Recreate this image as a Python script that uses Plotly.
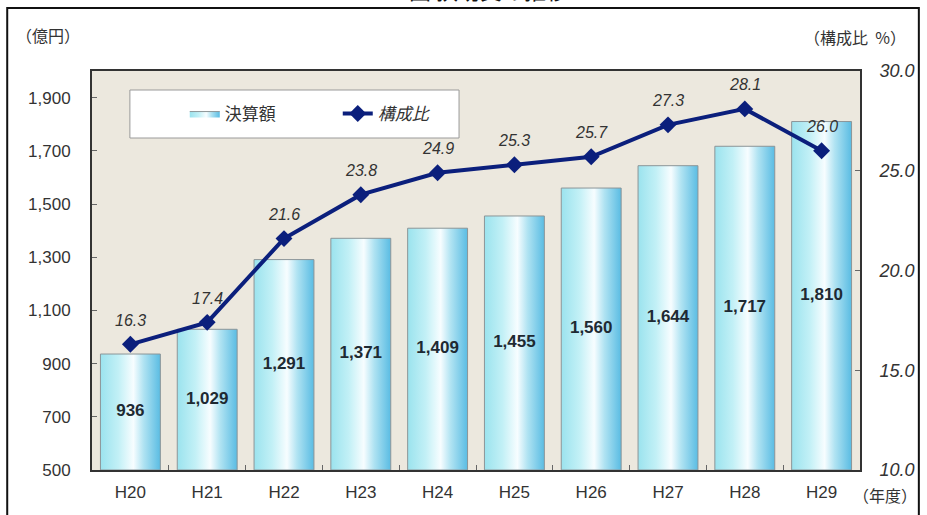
import plotly.graph_objects as go

years = ["H20", "H21", "H22", "H23", "H24", "H25", "H26", "H27", "H28", "H29"]
amounts = [936, 1029, 1291, 1371, 1409, 1455, 1560, 1644, 1717, 1810]
ratios = [16.3, 17.4, 21.6, 23.8, 24.9, 25.3, 25.7, 27.3, 28.1, 26.0]
left_ticks = [500, 700, 900, 1100, 1300, 1500, 1700, 1900]
right_ticks = [10, 15, 20, 25, 30]

Y_MIN, Y_MAX = 500, 2000
BAR_W = 0.78
JP = "Noto Sans CJK JP"
LAT = "Liberation Sans, Arial, sans-serif"

grad = [[0.0, "#9be3ee"], [0.3, "#c2f0f6"], [0.55, "#f7fdff"], [0.72, "#b0e3f2"], [1.0, "#5abce3"]]

fig = go.Figure()
for i, (yr, v) in enumerate(zip(years, amounts)):
    x0, x1 = i - BAR_W / 2, i + BAR_W / 2
    fig.add_trace(go.Scatter(
        x=[x0, x0, x1, x1, x0], y=[Y_MIN, v, v, Y_MIN, Y_MIN],
        mode="lines", fill="toself",
        line=dict(color="#8c9598", width=1),
        fillgradient=dict(type="horizontal", colorscale=grad),
        name="決算額", legendgroup="bar", showlegend=(i == 0),
        hoverinfo="skip",
    ))

# bar value labels
fig.add_trace(go.Scatter(
    x=list(range(len(years))), y=[(Y_MIN + v) / 2 for v in amounts],
    mode="text", text=[f"{v:,}" for v in amounts],
    textfont=dict(family=LAT, size=17, color="#1e2a33", weight="bold"),
    showlegend=False, hoverinfo="skip",
))

fig.add_trace(go.Scatter(
    x=list(range(len(years))), y=ratios, yaxis="y2",
    mode="lines+markers", name="<i>構成比</i>",
    line=dict(color="#0b1f7c", width=4),
    marker=dict(symbol="diamond", size=13, color="#0b1f7c"),
))

for i, r in enumerate(ratios):
    fig.add_annotation(x=i, y=r, yref="y2", text=f"<i>{r:.1f}</i>",
                       showarrow=False, yshift=24,
                       font=dict(family=LAT, size=16, color="#333333"))

axis_font = dict(family=LAT, size=17, color="#333333")
fig.update_layout(
    width=927, height=515,
    margin=dict(l=92, r=65, t=71, b=45),
    paper_bgcolor="white", plot_bgcolor="#ece8de",
    xaxis=dict(range=[-0.5, len(years) - 0.5], tickmode="array",
               tickvals=list(range(len(years))), ticktext=years,
               ticks="", showgrid=False, zeroline=False,
               showline=True, linecolor="#333333", linewidth=2, mirror=True,
               tickfont=axis_font, ticklabelstandoff=6,
               minor=dict(tickvals=[i + 0.5 for i in range(len(years) - 1)],
                          ticks="inside", ticklen=5, tickcolor="#666666", showgrid=False)),
    yaxis=dict(range=[Y_MIN, Y_MAX], tickvals=left_ticks,
               ticktext=[f"{t:,}" for t in left_ticks],
               ticks="inside", ticklen=5, tickcolor="#666666",
               showgrid=False, zeroline=False,
               showline=True, linecolor="#333333", linewidth=2,
               tickfont=axis_font, ticklabelstandoff=16),
    yaxis2=dict(range=[10, 30], tickvals=right_ticks,
                ticktext=[f"<i>{t:.1f}</i>" for t in right_ticks],
                overlaying="y", side="right",
                ticks="inside", ticklen=5, tickcolor="#666666",
                showgrid=False, zeroline=False,
                showline=True, linecolor="#333333", linewidth=2,
                tickfont=dict(family=LAT, size=18, color="#333333"),
                ticklabelstandoff=14),
    legend=dict(orientation="h", x=(185 - 92) / 770, y=(470 - 114) / 399,
                xanchor="left", yanchor="middle",
                bgcolor="rgba(0,0,0,0)", borderwidth=0,
                font=dict(family=JP, size=17, color="#333333"),
                entrywidth=108, entrywidthmode="pixels"),
    showlegend=True,
)

# legend box
fig.add_shape(type="rect", xref="paper", yref="paper",
              x0=(130 - 92) / 770, x1=(460 - 92) / 770,
              y0=(470 - 138) / 399, y1=(470 - 90) / 399,
              fillcolor="white", line=dict(color="#9a9a9a", width=1), layer="below")

# outer frame
fig.add_shape(type="rect", xref="paper", yref="paper",
              x0=(7 - 92) / 770, x1=(921 - 92) / 770,
              y0=-0.3, y1=(470 - 8) / 399,
              line=dict(color="#111111", width=2), layer="below")

fig.add_annotation(xref="paper", yref="paper", x=(14 - 92) / 770, y=(470 - 35) / 399,
                   xanchor="left", yanchor="middle", showarrow=False, text="（億円）",
                   font=dict(family=JP, size=16, color="#333333"))
fig.add_annotation(xref="paper", yref="paper", x=(910 - 92) / 770, y=(470 - 37) / 399,
                   xanchor="right", yanchor="middle", showarrow=False, text="（構成比  %）",
                   font=dict(family=JP, size=16, color="#333333"))
fig.add_annotation(xref="paper", yref="paper", x=(853 - 92) / 770, y=(470 - 495) / 399,
                   xanchor="left", yanchor="middle", showarrow=False, text="（年度）",
                   font=dict(family=JP, size=16, color="#333333"))
fig.add_annotation(xref="paper", yref="paper", x=(490 - 92) / 770, y=(470 - 7) / 399,
                   xanchor="center", yanchor="bottom", showarrow=False, text="図 扶助費の推移",
                   font=dict(family=JP, size=22, color="#111111"))

fig.write_html("out.html")
